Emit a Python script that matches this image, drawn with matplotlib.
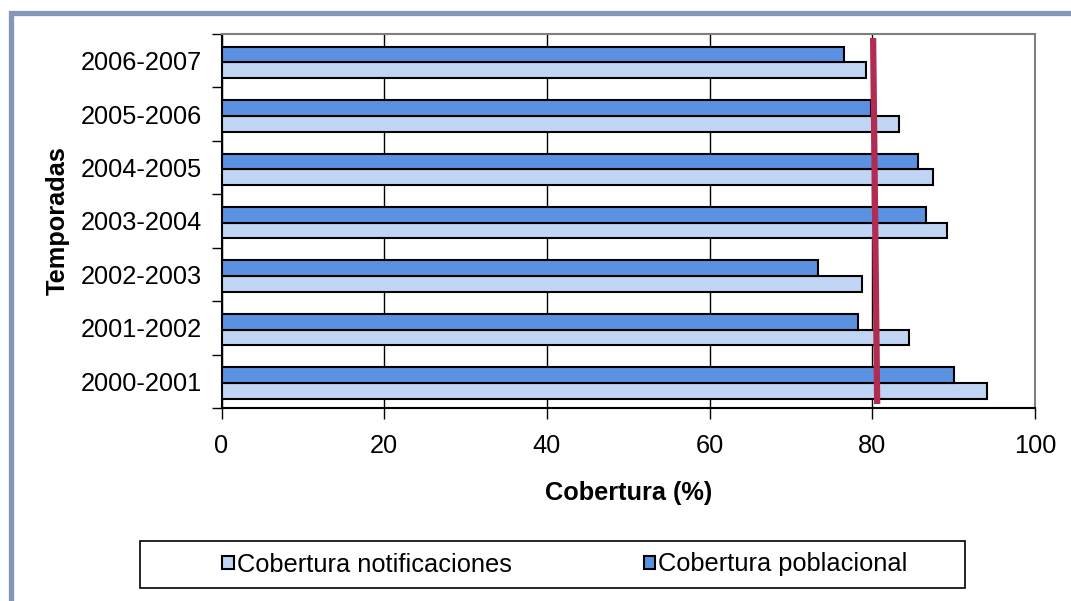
import numpy as np
import matplotlib.pyplot as plt
from matplotlib.patches import Rectangle

plt.rcParams['font.family'] = ['Liberation Sans', 'DejaVu Sans']

# Datos
temporadas = ["2000-2001", "2001-2002", "2002-2003", "2003-2004",
              "2004-2005", "2005-2006", "2006-2007"]
cob_notificaciones = [94.1, 84.5, 78.7, 89.2, 87.5, 83.3, 79.2]
cob_poblacional = [90.0, 78.2, 73.3, 86.6, 85.6, 79.8, 76.5]
linea_ref = [80.6, 80.1]  # valor abajo / arriba de la linea roja

c_notif = "#c0d5f3"
c_pobl = "#5b91e1"
c_ref = "#b02c50"
fs = 18.3

fig = plt.figure(figsize=(10.71, 6.01), dpi=100)
W, H = 1071, 601

# marco exterior
fig.patches.append(Rectangle((10.5 / W, -0.1), 1.2, (H - 12.5) / H + 0.1,
                             transform=fig.transFigure, fill=False,
                             edgecolor="#8497b9", linewidth=3.8, zorder=0))

ax = fig.add_axes([221.5 / W, 1 - 408 / H, (1035 - 221.5) / W, (408 - 34) / H])

y = np.arange(len(temporadas))
h = 0.295
ax.barh(y - 0.18, cob_notificaciones, height=h, color=c_notif,
        edgecolor="black", linewidth=1.5, label="Cobertura notificaciones", zorder=3)
ax.barh(y + 0.115, cob_poblacional, height=h, color=c_pobl,
        edgecolor="black", linewidth=1.5, label="Cobertura poblacional", zorder=3)

ax.plot(linea_ref, [-0.425, 6.425], color=c_ref, linewidth=4.5,
        solid_capstyle="butt", zorder=4)

ax.set_xlim(0, 100)
ax.set_ylim(-0.5, 6.5)
ax.set_xticks(np.arange(0, 101, 20))
ax.tick_params(axis="x", length=8, width=1, pad=11, labelsize=fs, direction="out")
ax.xaxis.grid(True, color="black", linewidth=1, zorder=0)

ax.set_yticks(np.arange(-0.5, 7, 1))
ax.set_yticklabels([])
ax.set_yticks(y, minor=True)
ax.set_yticklabels(temporadas, minor=True, fontsize=fs)
ax.tick_params(axis="y", which="major", length=7, width=1, direction="out")
ax.tick_params(axis="y", which="minor", length=0, pad=14)

for s in ["top", "right"]:
    ax.spines[s].set_color("#7f7f7f")
    ax.spines[s].set_linewidth(1.5)
for s in ["left", "bottom"]:
    ax.spines[s].set_color("black")
    ax.spines[s].set_linewidth(1.5)

ax.set_xlabel("Cobertura (%)", fontsize=fs, fontweight="bold")
ax.xaxis.label.set_va("center")
ax.xaxis.set_label_coords(0.5, -(493 - 408) / 374)
ax.set_ylabel("Temporadas", fontsize=fs, fontweight="bold")
ax.yaxis.label.set_va("center")
ax.yaxis.set_label_coords(-(221.5 - 58) / 813.5, 0.5)

# leyenda
fig.patches.append(Rectangle((140 / W, 1 - 588 / H), 825 / W, 47 / H,
                             transform=fig.transFigure, fill=False,
                             edgecolor="black", linewidth=1.2))
leg = fig.legend(loc="center", bbox_to_anchor=(565 / W, 1 - 564.5 / H),
                 ncol=2, frameon=False, fontsize=fs, handlelength=0.45,
                 handleheight=0.45, handletextpad=0.12, columnspacing=5.2)

fig.savefig("out.png", dpi=100)
